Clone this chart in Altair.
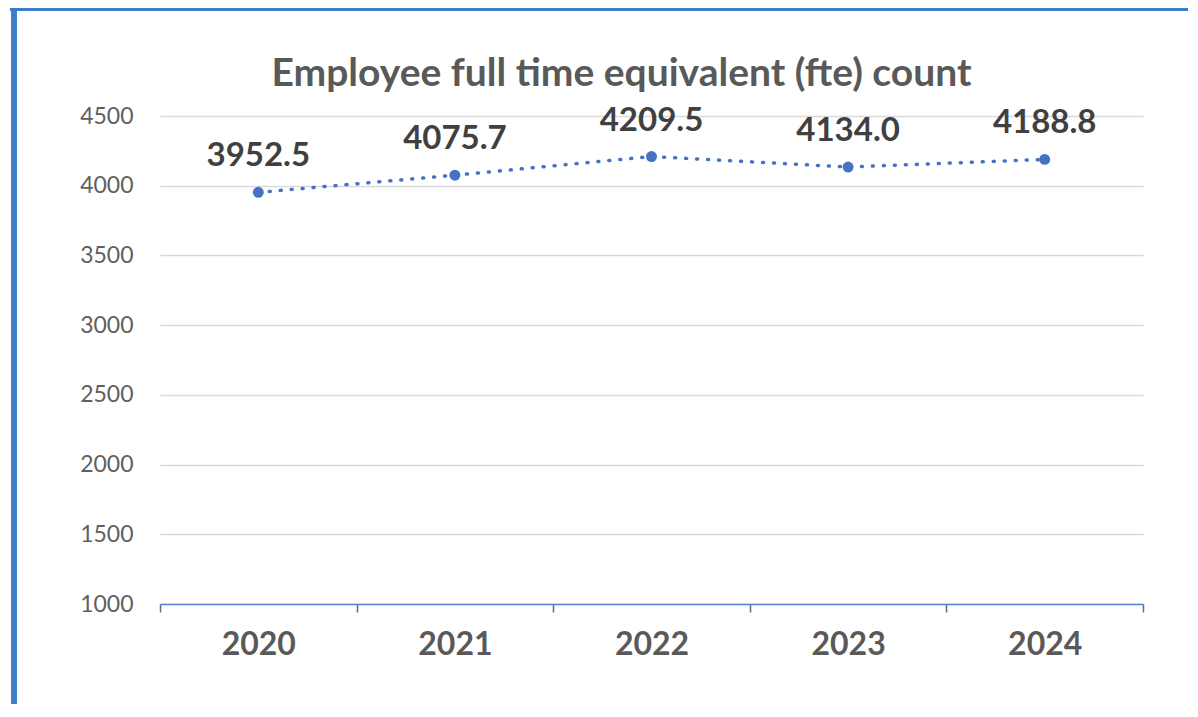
import altair as alt
import pandas as pd

years = ["2020", "2021", "2022", "2023", "2024"]
fte = [3952.5, 4075.7, 4209.5, 4134.0, 4188.8]
fte_labels = ["3952.5", "4075.7", "4209.5", "4134.0", "4188.8"]
y_ticks = [1000, 1500, 2000, 2500, 3000, 3500, 4000, 4500]
title_text = "Employee full time equivalent (fte) count"

df = pd.DataFrame({"year": years, "fte": fte, "label": fte_labels})

W, H = 983, 488
FONT = "Lato"
BLUE = "#4472C4"

x_enc = alt.X(
    "year:O",
    scale=alt.Scale(type="band", paddingInner=0, paddingOuter=0),
    axis=alt.Axis(
        title=None, labelAngle=0, labelFont=FONT, labelFontSize=32,
        labelFontWeight="bold", labelColor="#595959", labelPadding=17,
        domainColor="#5b82cf", domainWidth=1.5, tickColor="#5a6b8c",
        tickSize=8, tickWidth=1.5, tickBand="extent", grid=False,
    ),
)
y_enc = alt.Y(
    "fte:Q",
    scale=alt.Scale(domain=[1000, 4500], nice=False, zero=False),
    axis=alt.Axis(
        values=y_ticks, title=None, domain=False, ticks=False, format="d",
        labelFont=FONT, labelFontSize=23, labelColor="#5f5f5f",
        labelPadding=27, gridColor="#d9d9d9", gridWidth=1.5,
    ),
)

base = alt.Chart(df)

line = base.mark_line(
    color=BLUE, strokeWidth=3.5, strokeDash=[1, 10], strokeCap="round"
).encode(x=x_enc, y=y_enc)

points = base.mark_circle(color=BLUE, size=120, opacity=1).encode(
    x=alt.X("year:O"), y=alt.Y("fte:Q")
)

texts = base.mark_text(
    dy=-36, font=FONT, fontSize=33, fontWeight="bold", color="#404040"
).encode(x=alt.X("year:O"), y=alt.Y("fte:Q"), text="label:N")

title = alt.Chart(pd.DataFrame({"t": [title_text]})).mark_text(
    font=FONT, fontSize=39, fontWeight="bold", color="#595959",
    baseline="alphabetic", align="center",
).encode(x=alt.value(W / 2 - 30), y=alt.value(-30), text="t:N")

left_border = alt.Chart(df).mark_rule(color="#3d7cc9", strokeWidth=5).encode(
    x=alt.value(-146), y=alt.value(-120), y2=alt.value(H + 200)
)
top_border = alt.Chart(df).mark_rule(color="#3d7cc9", strokeWidth=4).encode(
    x=alt.value(-150), x2=alt.value(W + 200), y=alt.value(-107)
)

chart = alt.layer(line, points, texts, title, left_border, top_border).properties(
    width=W,
    height=H,
    autosize=alt.AutoSizeParams(type="none"),
    padding={"left": 152, "top": 108, "right": 45, "bottom": 100},
    background="white",
).configure_view(stroke=None)

chart.save("out.html", embed_options={"renderer": "svg", "actions": False})
